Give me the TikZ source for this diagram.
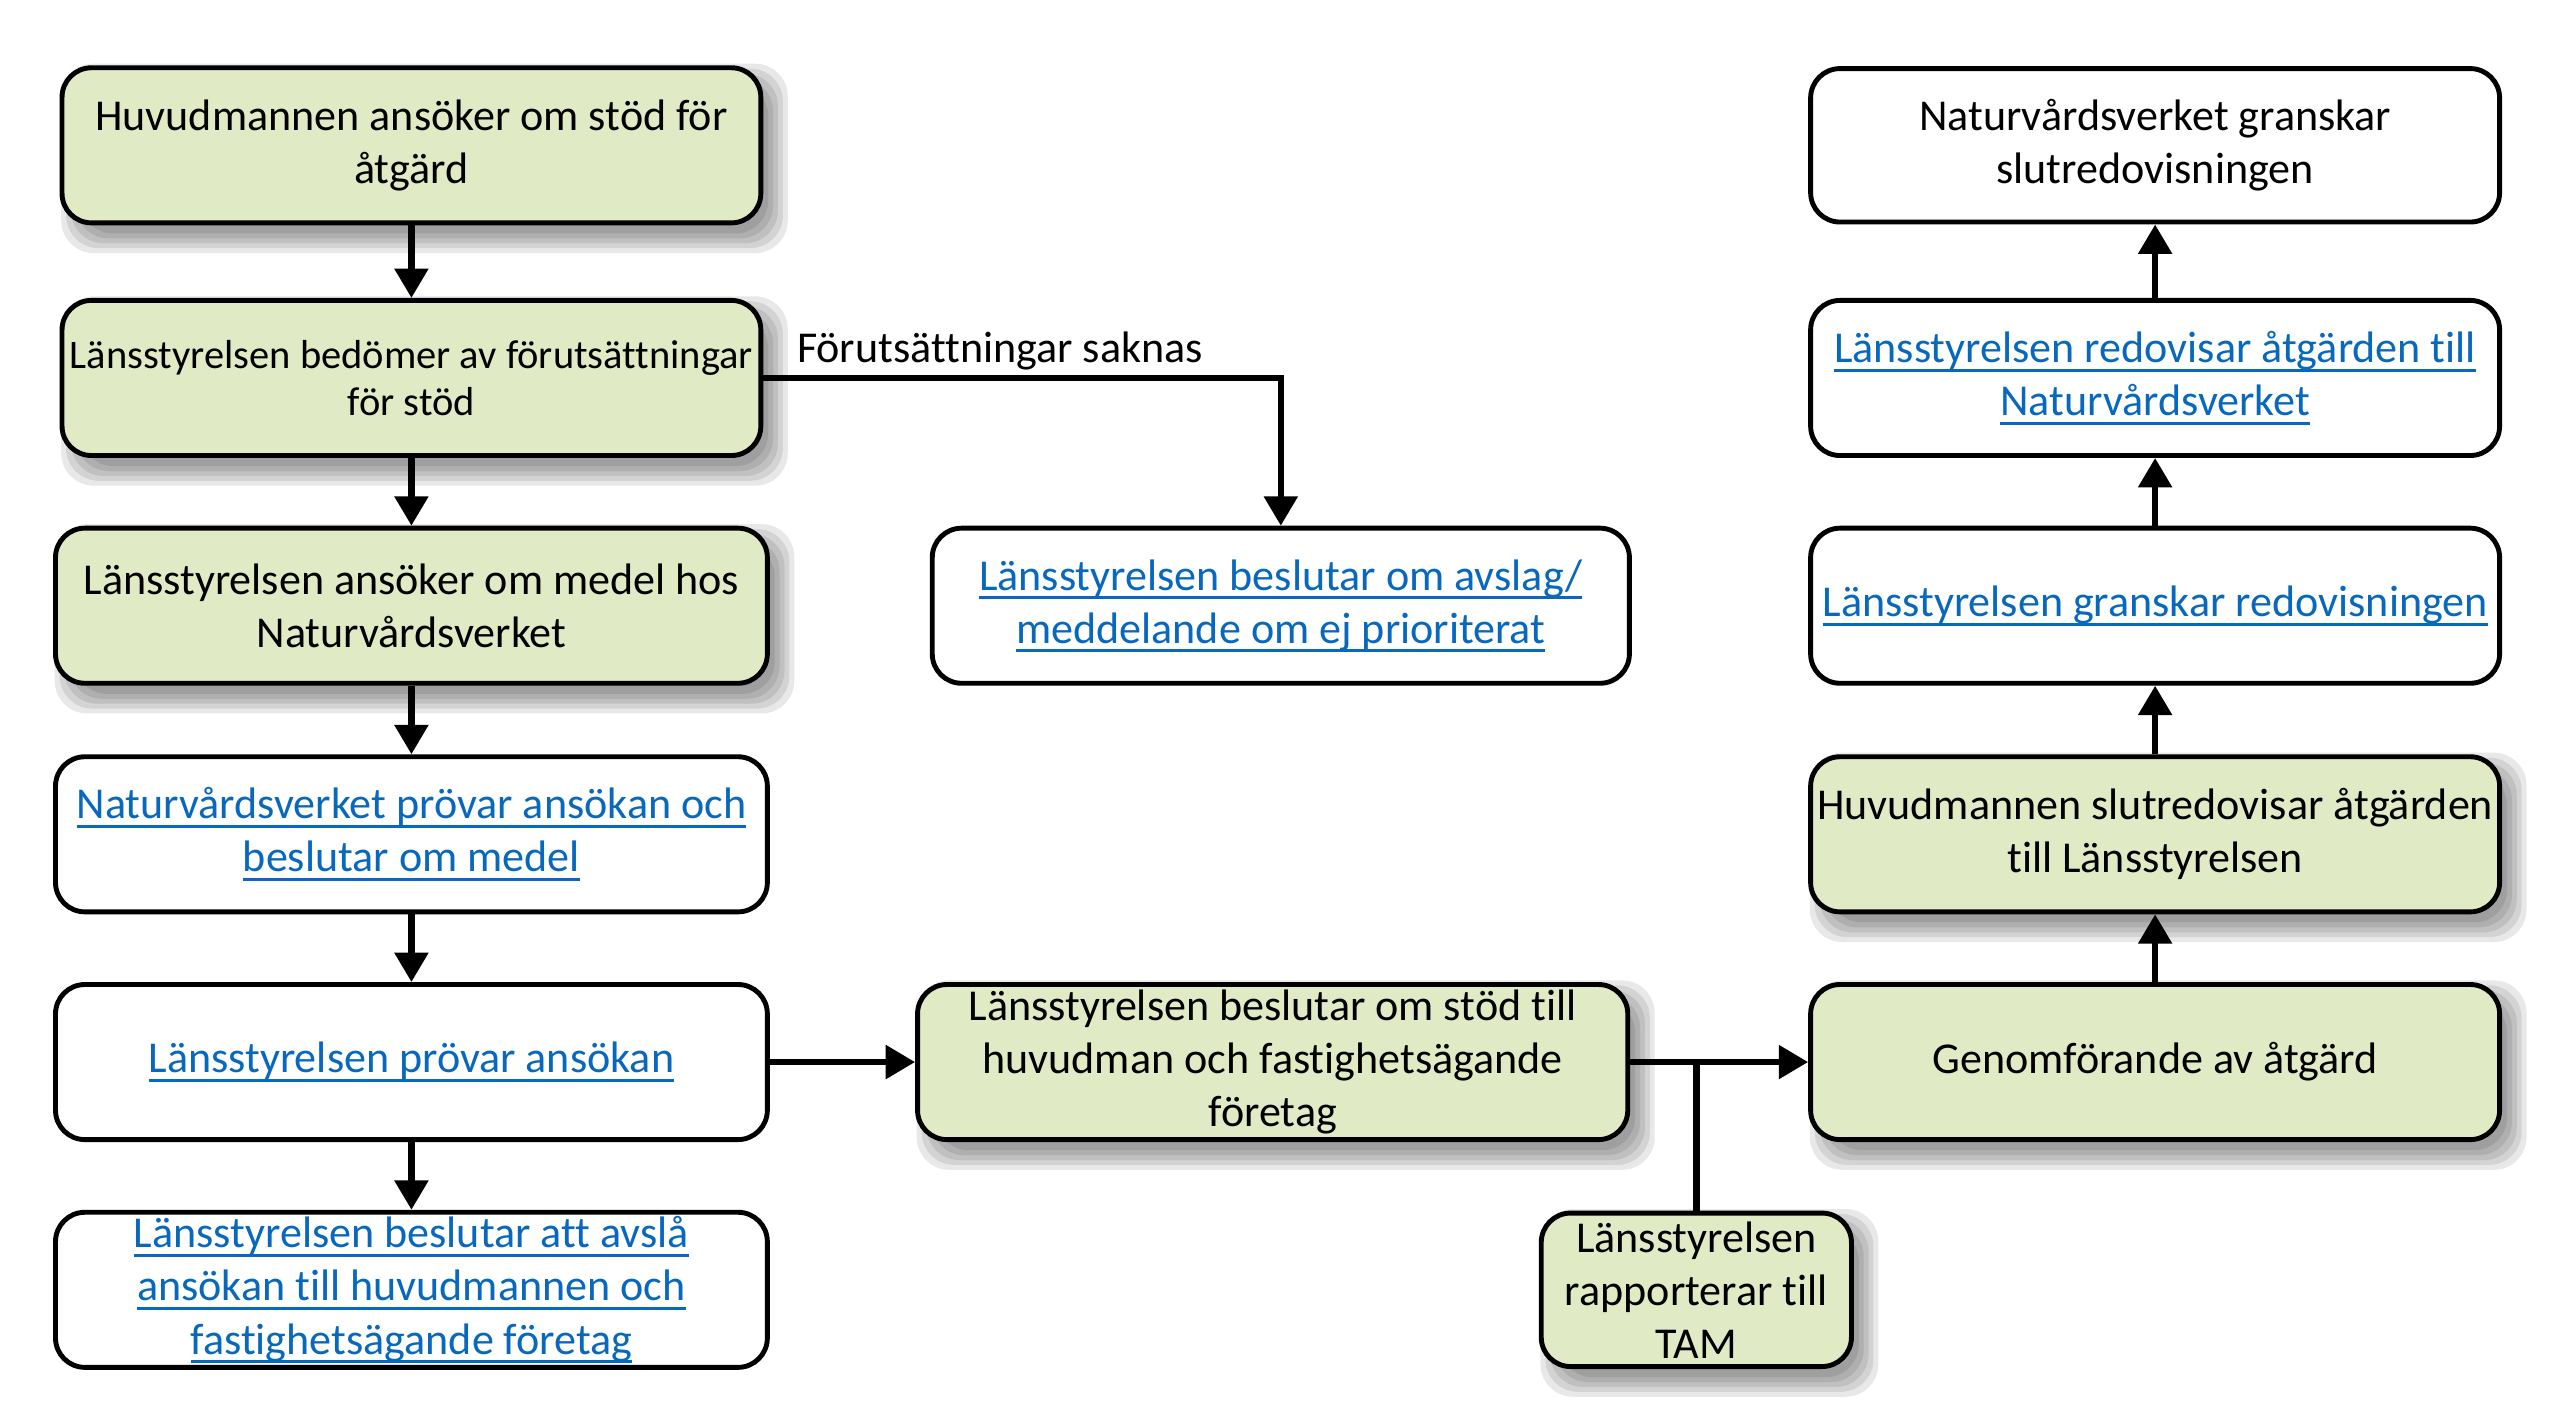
\documentclass[tikz,border=0pt]{standalone}
\usepackage{fontspec}
\setmainfont{Carlito}[Ligatures=NoCommon]
\usetikzlibrary{arrows.meta,backgrounds,calc}
\definecolor{boxgreen}{RGB}{224,235,198}
\definecolor{linkblue}{RGB}{8,104,190}
\newcommand\lnk[1]{\leavevmode\setbox0\hbox{#1}\rlap{\rule[-5.5pt]{\wd0}{1.8pt}}\box0}
\newcommand\shd[1]{%
  \begin{scope}[on background layer]
    \foreach \d in {-4,-1,2,5,8}{
      \fill[black,opacity=0.09,rounded corners=20pt]
        ($(#1.south west)+(9-\d,-9-\d)$) rectangle ($(#1.north east)+(7+\d,-7+\d)$);
    }
  \end{scope}}
\begin{document}
\begin{tikzpicture}[x=1pt,y=1pt,
  box/.style={draw=black,line width=3pt,rounded corners=18pt,align=center,inner sep=0pt,
    minimum height=95pt,font=\fontsize{27}{32.5}\selectfont},
  gbox/.style={box,fill=boxgreen},
  wbox/.style={box,fill=white},
  lbox/.style={box,fill=white,text=linkblue},
  arr/.style={line width=4pt,-{Triangle[length=18pt,width=20pt]}},
  plain/.style={line width=4pt}]
\useasboundingbox (0,0) rectangle (1568,-868);

% left column
\node[gbox,minimum width=428pt] (b1) at (252,-89) {Huvudmannen ansöker om stöd för\\åtgärd};
\node[gbox,minimum width=428pt,font=\fontsize{24.8}{29}\selectfont] (b2) at (252,-231.5) {Länsstyrelsen bedömer av förutsättningar\\för stöd};
\node[gbox,minimum width=436pt] (b3) at (252,-371) {Länsstyrelsen ansöker om medel hos\\Naturvårdsverket};
\node[lbox,minimum width=436pt] (b4) at (252,-511) {\lnk{Naturvårdsverket prövar ansökan och}\\\lnk{beslutar om medel}};
\node[lbox,minimum width=436pt] (b5) at (252,-650.5) {\lnk{Länsstyrelsen prövar ansökan}};
\node[lbox,minimum width=436pt] (b6) at (252,-790) {\lnk{Länsstyrelsen beslutar att avslå}\\\lnk{ansökan till huvudmannen och}\\\lnk{fastighetsägande företag}};

% middle
\node[lbox,minimum width=427pt] (b7) at (784.5,-371) {\lnk{Länsstyrelsen beslutar om avslag/}\\\lnk{meddelande om ej prioriterat}};
\node[gbox,minimum width=435pt] (b8) at (779.5,-650.5) {Länsstyrelsen beslutar om stöd till\\huvudman och fastighetsägande\\företag};
\node[gbox,minimum width=190pt,minimum height=94pt] (b9) at (1039,-790) {Länsstyrelsen\\rapporterar till\\TAM};

% right column
\node[wbox,minimum width=422pt,minimum height=94pt] (b10) at (1320,-89) {Naturvårdsverket granskar\\slutredovisningen};
\node[lbox,minimum width=422pt] (b11) at (1320,-231.5) {\lnk{Länsstyrelsen redovisar åtgärden till}\\\lnk{Naturvårdsverket}};
\node[lbox,minimum width=422pt] (b12) at (1320,-371) {\lnk{Länsstyrelsen granskar redovisningen}};
\node[gbox,minimum width=422pt] (b13) at (1320,-511) {Huvudmannen slutredovisar åtgärden\\till Länsstyrelsen};
\node[gbox,minimum width=422pt] (b14) at (1320,-650.5) {Genomförande av åtgärd};

% shadows
\foreach \n in {b1,b2,b3,b8,b9,b13,b14}{\shd{\n}}

% label
\node[anchor=base west,inner sep=0pt,font=\fontsize{27}{32.5}\selectfont] (lbl) at (488,-222) {Förutsättningar saknas};

% connectors
\draw[arr] (b1.south) -- (b2.north);
\draw[arr] (b2.south) -- (b3.north);
\draw[arr] (b3.south) -- (b4.north);
\draw[arr] (b4.south) -- (b5.north);
\draw[arr] (b5.south) -- (b6.north);
\draw[arr] (b2.east) -| (b7.north);
\draw[arr] (b5.east) -- (b8.west);
\draw[arr] (b8.east) -- (b14.west);
\coordinate (j) at (b9.north |- b8.east);
\draw[plain] (b9.north) -- (j);
\draw[arr] (b14.north) -- (b13.south);
\draw[arr] (b13.north) -- (b12.south);
\draw[arr] (b12.north) -- (b11.south);
\draw[arr] (b11.north) -- (b10.south);
\end{tikzpicture}
\end{document}
